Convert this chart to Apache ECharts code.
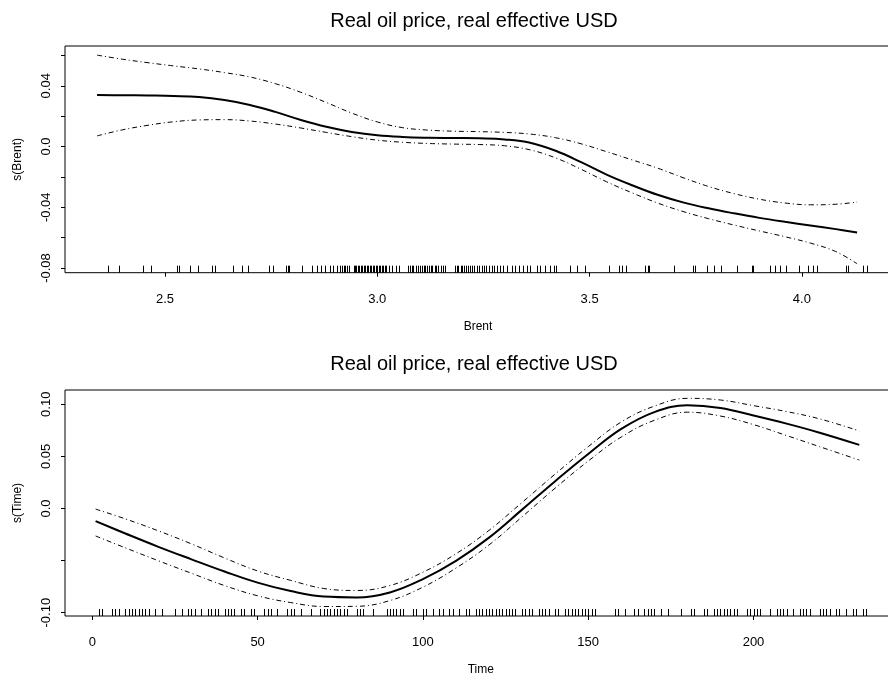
<!DOCTYPE html>
<html>
<head>
<meta charset="utf-8">
<script src="https://cdn.jsdelivr.net/npm/echarts@6/dist/echarts.min.js"></script>
<style>
  html, body { margin: 0; padding: 0; background: #fff; }
  #chart { width: 888px; height: 682px; }
</style>
</head>
<body>
<div id="chart"></div>
<script>
// ---- Smooth term s(Brent): fitted curve and +/- 2 s.e. bands ----
const brentX = [2.34, 2.40, 2.46, 2.52, 2.58, 2.64, 2.70, 2.76, 2.82, 2.88, 2.94, 3.00, 3.06, 3.12, 3.18, 3.24,
                3.30, 3.36, 3.42, 3.48, 3.54, 3.60, 3.66, 3.72, 3.78, 3.84, 3.90, 3.96, 4.02, 4.08, 4.13];
const brentFit = [0.0339, 0.0338, 0.0336, 0.0333, 0.0326, 0.0306, 0.0274, 0.0228, 0.0175, 0.0130, 0.0096, 0.0074,
                  0.0063, 0.0058, 0.0056, 0.0054, 0.0047, 0.0025, -0.0028, -0.0103, -0.0185, -0.0255, -0.0318,
                  -0.0368, -0.0407, -0.0440, -0.0470, -0.0496, -0.0520, -0.0544, -0.0566];
const brentUpper = [0.0602, 0.0575, 0.0552, 0.0531, 0.0511, 0.0487, 0.0458, 0.0414, 0.0357, 0.0290, 0.0220, 0.0162,
                    0.0124, 0.0108, 0.0101, 0.0098, 0.0093, 0.0082, 0.0058, 0.0018, -0.0034, -0.0088, -0.0142,
                    -0.0205, -0.0263, -0.0310, -0.0347, -0.0372, -0.0384, -0.0380, -0.0366];
const brentLower = [0.0070, 0.0110, 0.0140, 0.0163, 0.0175, 0.0177, 0.0168, 0.0148, 0.0122, 0.0093, 0.0065, 0.0042,
                    0.0028, 0.0020, 0.0016, 0.0013, 0.0005, -0.0022, -0.0075, -0.0150, -0.0232, -0.0305, -0.0372,
                    -0.0428, -0.0475, -0.0517, -0.0556, -0.0594, -0.0636, -0.0692, -0.0772];

// observed Brent values (rug)
const brentRug = [
  2.366, 2.392, 2.449, 2.467, 2.528, 2.533, 2.560, 2.577, 2.611, 2.618, 2.661, 2.682, 2.696,
  2.746, 2.755, 2.785, 2.789, 2.793, 2.823, 2.847, 2.857, 2.867, 2.878, 2.889, 2.896, 2.904,
  2.912, 2.916, 2.921, 2.925, 2.929, 2.933, 2.944, 2.948, 2.951, 2.955, 2.958, 2.962, 2.965,
  2.969, 2.972, 2.976, 2.979, 2.983, 2.986, 2.990, 2.993, 2.997, 3.000, 3.003, 3.006, 3.010,
  3.013, 3.017, 3.021, 3.027, 3.034, 3.045, 3.051, 3.072, 3.077, 3.081, 3.085, 3.092, 3.097,
  3.101, 3.105, 3.109, 3.113, 3.118, 3.122, 3.126, 3.130, 3.135, 3.139, 3.144, 3.150, 3.155,
  3.160, 3.183, 3.187, 3.191, 3.196, 3.200, 3.204, 3.208, 3.213, 3.218, 3.223, 3.228, 3.234,
  3.240, 3.246, 3.252, 3.257, 3.263, 3.270, 3.276, 3.283, 3.289, 3.297, 3.305, 3.317, 3.324,
  3.334, 3.344, 3.352, 3.360, 3.375, 3.383, 3.395, 3.407, 3.415, 3.422, 3.454, 3.471, 3.489,
  3.546, 3.569, 3.576, 3.585, 3.630, 3.637, 3.641, 3.698, 3.744, 3.749, 3.777, 3.793, 3.809,
  3.846, 3.882, 3.886, 3.925, 3.937, 3.948, 3.962, 3.993, 4.015, 4.027, 4.035, 4.103, 4.108,
  4.145, 4.154
];

const brentTicks  = [2.5, 3.0, 3.5, 4.0];
const sBrentTicks = [-0.08, -0.06, -0.04, -0.02, 0, 0.02, 0.04, 0.06];
const sBrentLabels = [-0.08, -0.04, 0, 0.04];

// ---- Smooth term s(Time) ----
const timeX = [1, 10, 20, 30, 40, 50, 60, 70, 80, 90, 100, 110, 120, 130, 140, 150, 160, 170, 180, 190, 200, 210, 220, 232];
const timeFit = [-0.0121, -0.0240, -0.0368, -0.0488, -0.0605, -0.0712, -0.0793, -0.0846, -0.0854, -0.0806, -0.0678,
                 -0.0503, -0.0280, -0.0011, 0.0262, 0.0523, 0.0763, 0.0925, 0.0990, 0.0964, 0.0892, 0.0814, 0.0727, 0.0610];
const timeUpper = [-0.0006, -0.0100, -0.0215, -0.0340, -0.0475, -0.0600, -0.0690, -0.0768, -0.0787, -0.0740, -0.0612,
                   -0.0435, -0.0210, 0.0058, 0.0330, 0.0593, 0.0830, 0.0982, 0.1057, 0.1041, 0.0987, 0.0930, 0.0860, 0.0744];
const timeLower = [-0.0264, -0.0378, -0.0502, -0.0622, -0.0740, -0.0838, -0.0903, -0.0941, -0.0939, -0.0884, -0.0755,
                   -0.0572, -0.0350, -0.0080, 0.0195, 0.0455, 0.0686, 0.0846, 0.0924, 0.0887, 0.0805, 0.0700, 0.0593, 0.0465];

// observed time points (rug)
const timeRug = [
  2, 3, 6, 7, 8, 10, 11, 12, 13, 14, 15, 16, 17, 19, 21, 25, 27, 29, 30, 31, 33, 35, 36, 37,
  38, 40, 41, 42, 43, 45, 46, 48, 49, 52, 53, 54, 56, 59, 60, 61, 63, 66, 69, 70, 71, 72, 73,
  74, 75, 76, 77, 80, 81, 82, 85, 89, 90, 91, 92, 93, 94, 97, 98, 100, 101, 103, 105, 106, 108,
  109, 111, 113, 114, 116, 117, 118, 119, 120, 121, 122, 123, 124, 125, 126, 127, 128, 130,
  131, 132, 133, 135, 136, 137, 138, 140, 141, 143, 144, 145, 146, 147, 148, 149, 150, 151,
  152, 158, 159, 161, 164, 165, 167, 168, 169, 170, 172, 174, 178, 181, 182, 185, 186, 188,
  189, 190, 191, 192, 193, 194, 195, 198, 199, 200, 201, 202, 205, 207, 208, 209, 210, 212,
  214, 215, 216, 217, 220, 221, 222, 223, 225, 226, 228, 230, 231, 233, 234
];

const timeTicks  = [0, 50, 100, 150, 200];
const sTimeTicks = [-0.10, -0.05, 0, 0.05, 0.10];
const sTimeLabels = [-0.10, 0, 0.05, 0.10];

const titleText = 'Real oil price, real effective USD';

// ---- layout ----
const FONT = '"Liberation Sans", Arial, Helvetica, sans-serif';
const panels = [
  { xMin: 2.2645, xMax: 4.21, yMin: -0.0831, yMax: 0.0662, top: 46, height: 226.7, pxPerX: 424.6 },
  { xMin: -8.26, xMax: 243.3, yMin: -0.1032, yMax: 0.1137, top: 390, height: 226, pxPerX: 3.306 }
];

const chart = echarts.init(document.getElementById('chart'), null, { renderer: 'canvas' });

function pairs(xs, ys) { return xs.map((x, i) => [x, ys[i]]); }

const fitStyle = { color: '#000', width: 2, type: 'solid' };
const ciStyle  = { color: '#000', width: 1, type: [5, 3, 1, 3] };

function lineSeries(idx, xs, ys, style) {
  return {
    type: 'line', xAxisIndex: idx, yAxisIndex: idx,
    data: pairs(xs, ys), smooth: 0.4, showSymbol: false, symbol: 'none',
    lineStyle: style, silent: true, animation: false, z: 3
  };
}

function rugSeries(idx, values, yBase) {
  return {
    type: 'custom', xAxisIndex: idx, yAxisIndex: idx,
    data: values.map(v => [v, yBase]), encode: { x: 0, y: 1 },
    silent: true, animation: false, clip: false,
    renderItem: function (params, api) {
      const p = api.coord([api.value(0), api.value(1)]);
      const x = Math.round(p[0]) + 0.5;
      return {
        type: 'line',
        shape: { x1: x, y1: p[1], x2: x, y2: p[1] - 7 },
        style: { stroke: '#000', lineWidth: 1 }
      };
    }
  };
}

function fmtY(v) {
  if (Math.abs(v) < 1e-9) return '0.0';
  return v.toFixed(2);
}

function xAxisCfg(grid, p, name, ticks, fmt) {
  return {
    gridIndex: grid, type: 'value', min: p.xMin, max: p.xMax,
    name: name, nameLocation: 'middle', nameGap: 48,
    nameTextStyle: { fontFamily: FONT, fontSize: 12, color: '#000' },
    axisLine: { show: false, onZero: false },
    axisTick: { show: true, customValues: ticks, inside: false, length: 4, lineStyle: { color: '#000' } },
    axisLabel: { customValues: ticks, margin: 20, fontFamily: FONT, fontSize: 13, color: '#000', formatter: fmt },
    splitLine: { show: false }
  };
}

function yAxisCfg(grid, p, name, ticks, labels) {
  return {
    gridIndex: grid, type: 'value', min: p.yMin, max: p.yMax,
    name: name, nameLocation: 'middle', nameGap: 41,
    nameTextStyle: { fontFamily: FONT, fontSize: 12, color: '#000' },
    axisLine: { show: false, onZero: false },
    axisTick: { show: true, customValues: ticks, length: 4, lineStyle: { color: '#000' } },
    axisLabel: { customValues: labels, rotate: 90, margin: 12, fontFamily: FONT, fontSize: 13, color: '#000', formatter: fmtY },
    splitLine: { show: false }
  };
}

const option = {
  animation: false,
  backgroundColor: '#fff',
  graphic: [
    { type: 'text', x: 474, y: 21,
      style: { text: titleText, font: '20px ' + FONT, fill: '#000', textAlign: 'center', textVerticalAlign: 'middle' } },
    { type: 'text', x: 474, y: 364,
      style: { text: titleText, font: '20px ' + FONT, fill: '#000', textAlign: 'center', textVerticalAlign: 'middle' } }
  ],
  grid: panels.map(p => ({
    left: 65, top: p.top, height: p.height, width: (p.xMax - p.xMin) * p.pxPerX,
    containLabel: false, outerBoundsMode: 'none',
    show: true, borderColor: '#000', borderWidth: 1, backgroundColor: 'transparent'
  })),
  xAxis: [
    xAxisCfg(0, panels[0], 'Brent', brentTicks, v => v.toFixed(1)),
    xAxisCfg(1, panels[1], 'Time', timeTicks, v => String(Math.round(v)))
  ],
  yAxis: [
    yAxisCfg(0, panels[0], 's(Brent)', sBrentTicks, sBrentLabels),
    yAxisCfg(1, panels[1], 's(Time)', sTimeTicks, sTimeLabels)
  ],
  series: [
    lineSeries(0, brentX, brentUpper, ciStyle),
    lineSeries(0, brentX, brentLower, ciStyle),
    lineSeries(0, brentX, brentFit, fitStyle),
    rugSeries(0, brentRug, panels[0].yMin),
    lineSeries(1, timeX, timeUpper, ciStyle),
    lineSeries(1, timeX, timeLower, ciStyle),
    lineSeries(1, timeX, timeFit, fitStyle),
    rugSeries(1, timeRug, panels[1].yMin)
  ]
};

chart.setOption(option);
</script>
</body>
</html>
